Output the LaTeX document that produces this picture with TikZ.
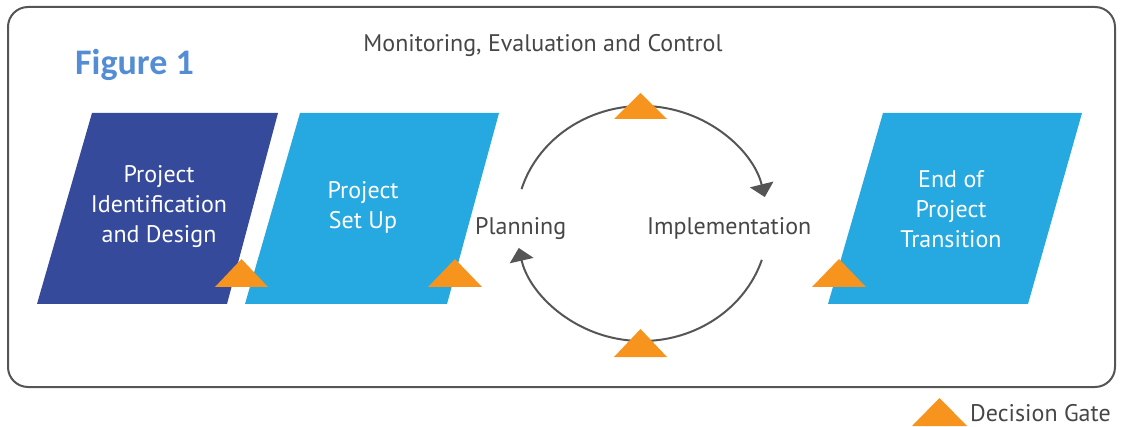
\documentclass[tikz,border=0pt]{standalone}
\usepackage{fontspec}
\setmainfont{PT Sans}
\newfontfamily\figfont{Carlito}
\usetikzlibrary{arrows.meta}
\definecolor{darkblue}{RGB}{54,74,155}
\definecolor{lightblue}{RGB}{38,169,224}
\definecolor{gate}{RGB}{246,148,30}
\definecolor{linegray}{RGB}{85,85,85}
\definecolor{textgray}{RGB}{70,70,70}
\definecolor{figblue}{RGB}{84,141,212}
\begin{document}
\begin{tikzpicture}[x=1pt,y=-1pt,
  phase/.style={text=white, align=center, font=\fontsize{24}{30}\selectfont},
  gatetri/.style={fill=gate},
  cyc/.style={draw=linegray, line width=2pt, -{Triangle[width=24pt,length=13pt]}},
  lbl/.style={text=textgray, inner sep=0pt, font=\fontsize{24}{30}\selectfont}
]
\useasboundingbox (0,0) rectangle (1121,427);
\draw[linegray, line width=2pt, rounded corners=20pt] (8,7) rectangle (1115,387);

\node[anchor=base west, inner sep=0pt, text=figblue, font=\figfont\bfseries\fontsize{36}{42}\selectfont] (fig) at (75,75) {Figure 1};
\node[lbl, anchor=base] (mec) at (543,52) {Monitoring, Evaluation and Control};

% phases
\fill[darkblue] (92,113) -- (278,113) -- (227,304) -- (37,304) -- cycle;
\fill[lightblue] (300,113) -- (499,113) -- (447,304) -- (245,304) -- cycle;
\fill[lightblue] (883,113) -- (1082,113) -- (1028,304) -- (828,304) -- cycle;
\node[phase] (pid) at (159,207) {Project\\Identification\\and Design};
\node[phase] (psu) at (363,207) {Project\\Set Up};
\node[phase] (eop) at (951,209) {End of\\Project\\Transition};

% cycle
\coordinate (cc) at (642,223.5);
\draw[cyc] ([shift={(197:126 and 117.5)}]cc) arc[start angle=197, end angle=347, x radius=126, y radius=117.5];
\draw[cyc] ([shift={(18:126 and 117.5)}]cc) arc[start angle=18, end angle=168, x radius=126, y radius=117.5];
\node[lbl, anchor=base west] (plan) at (475,235) {Planning};
\node[lbl, anchor=base west] (impl) at (647,235) {Implementation};

% decision gates
\fill[gatetri] (215,287) -- (241.5,259) -- (268,287) -- cycle;
\fill[gatetri] (428,287) -- (455,259) -- (482,287) -- cycle;
\fill[gatetri] (812,287) -- (839,259) -- (866,287) -- cycle;
\fill[gatetri] (614,119) -- (640.5,93) -- (667,119) -- cycle;
\fill[gatetri] (614,357) -- (640.5,329) -- (667,357) -- cycle;
\fill[gatetri] (912,426) -- (939.5,398) -- (967,426) -- cycle;
\node[lbl, anchor=base west] (leg) at (970,421) {Decision Gate};
\end{tikzpicture}
\end{document}
